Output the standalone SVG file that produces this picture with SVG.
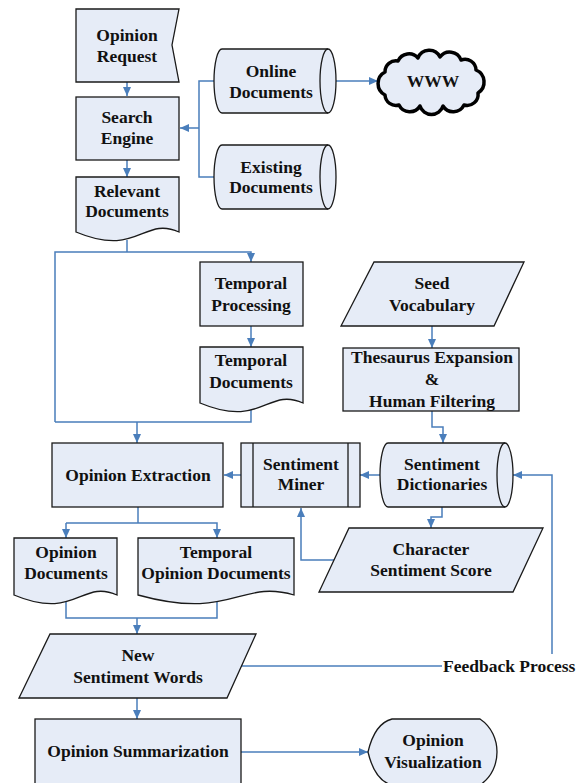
<svg xmlns="http://www.w3.org/2000/svg" width="580" height="783" viewBox="0 0 580 783">
<defs>
<style>
.s{fill:#e6ecf7;stroke:#1a1a1a;stroke-width:1.3}
.c{fill:none;stroke:#4a7ebb;stroke-width:1.5}
.t{font-family:"Liberation Serif","Times New Roman",serif;font-weight:bold;font-size:17.5px;fill:#111;text-anchor:middle}
</style>
<marker id="a" markerUnits="userSpaceOnUse" markerWidth="10" markerHeight="10" refX="9" refY="4" orient="auto">
<path d="M0,0 L9,4 L0,8 Z" fill="#4a7ebb"/>
</marker>
</defs>
<rect width="580" height="783" fill="#fff"/>
<g id="connectors">
<path class="c" d="M127,82 V96" marker-end="url(#a)"/>
<path class="c" d="M127,160 V177" marker-end="url(#a)"/>
<path class="c" d="M214,81 H199 V177 H214"/>
<path class="c" d="M199,128 H180" marker-end="url(#a)"/>
<path class="c" d="M336,81 H378" marker-end="url(#a)"/>
<path class="c" d="M127,240 V252"/>
<path class="c" d="M55,422 V252 H251 V262" marker-end="url(#a)"/>
<path class="c" d="M251,326 V347" marker-end="url(#a)"/>
<path class="c" d="M251,410 V422 H55"/>
<path class="c" d="M137,422 V443" marker-end="url(#a)"/>
<path class="c" d="M432,326 V348" marker-end="url(#a)"/>
<path class="c" d="M432,411 V427 H443 V443" marker-end="url(#a)"/>
<path class="c" d="M380,475 H360" marker-end="url(#a)"/>
<path class="c" d="M241,475 H224" marker-end="url(#a)"/>
<path class="c" d="M442,507 V517 H431 V528" marker-end="url(#a)"/>
<path class="c" d="M334,560 H301 V508" marker-end="url(#a)"/>
<path class="c" d="M138,507 V523"/>
<path class="c" d="M66,523 H217 V538" marker-end="url(#a)"/>
<path class="c" d="M66,523 V538" marker-end="url(#a)"/>
<path class="c" d="M66,601 V618 H217 V601"/>
<path class="c" d="M137,618 V634" marker-end="url(#a)"/>
<path class="c" d="M137,698 V719" marker-end="url(#a)"/>
<path class="c" d="M241,666 H442"/>
<path class="c" d="M552,654 V475 H513" marker-end="url(#a)"/>
<path class="c" d="M241,752 H368" marker-end="url(#a)"/>
</g>
<g id="opinion-request">
<path class="s" d="M76,9 H179 L172,45 L179,82 H76 Z"/>
<text class="t" x="127" y="41">Opinion</text>
<text class="t" x="127" y="62">Request</text>
</g>
<g id="search-engine">
<rect class="s" x="76" y="97" width="103" height="63"/>
<text class="t" x="127" y="123">Search</text>
<text class="t" x="127" y="144">Engine</text>
</g>
<g id="relevant-documents">
<path class="s" d="M76,177 H179 V232 C143,216 138,258 76,232 Z"/>
<text class="t" x="127" y="197">Relevant</text>
<text class="t" x="127" y="217">Documents</text>
</g>
<g id="online-documents">
<path class="s" d="M222,49 H328 A8,32 0 0 1 328,113 H222 A8,32 0 0 1 222,49 Z"/>
<path fill="none" stroke="#1a1a1a" stroke-width="1.3" d="M328,49 A8,32 0 0 0 328,113"/>
<text class="t" x="271" y="77">Online</text>
<text class="t" x="271" y="98">Documents</text>
</g>
<g id="existing-documents">
<path class="s" d="M222,145 H328 A8,32 0 0 1 328,209 H222 A8,32 0 0 1 222,145 Z"/>
<path fill="none" stroke="#1a1a1a" stroke-width="1.3" d="M328,145 A8,32 0 0 0 328,209"/>
<text class="t" x="271" y="173">Existing</text>
<text class="t" x="271" y="193">Documents</text>
</g>
<g id="www">
<path fill="#e6ecf7" stroke="#000" stroke-width="3.5" stroke-linejoin="round" d="M385,72 A11,11 0 0 1 398,61 A12,12 0 0 1 418,58 A12,12 0 0 1 440,57 A12,12 0 0 1 461,60 A11,11 0 0 1 476,70 A13,13 0 0 1 478,93 A11,11 0 0 1 464,105 A12,12 0 0 1 443,106 A12,12 0 0 1 420,106 A12,12 0 0 1 399,105 A11,11 0 0 1 385,95 A13,13 0 0 1 385,72 Z"/>
<text class="t" x="433" y="87">WWW</text>
</g>
<g id="temporal-processing">
<rect class="s" x="200" y="262" width="103" height="64"/>
<text class="t" x="251" y="289">Temporal</text>
<text class="t" x="251" y="311">Processing</text>
</g>
<g id="temporal-documents">
<path class="s" d="M200,347 H303 V403 C267,387 262,429 200,403 Z"/>
<text class="t" x="251" y="366">Temporal</text>
<text class="t" x="251" y="388">Documents</text>
</g>
<g id="seed-vocabulary">
<path class="s" d="M374,262 H524 L494,326 H341 Z"/>
<text class="t" x="432" y="289">Seed</text>
<text class="t" x="432" y="311">Vocabulary</text>
</g>
<g id="thesaurus">
<rect class="s" x="343" y="348" width="176" height="63"/>
<text class="t" x="432" y="363">Thesaurus Expansion</text>
<text class="t" x="432" y="385">&amp;</text>
<text class="t" x="432" y="407">Human Filtering</text>
</g>
<g id="opinion-extraction">
<rect class="s" x="52" y="443" width="171" height="64"/>
<text class="t" x="138" y="481">Opinion Extraction</text>
</g>
<g id="sentiment-miner">
<rect class="s" x="241" y="443" width="119" height="64"/>
<path fill="none" stroke="#1a1a1a" stroke-width="1.3" d="M253,443 V507 M348,443 V507"/>
<text class="t" x="301" y="470">Sentiment</text>
<text class="t" x="301" y="490">Miner</text>
</g>
<g id="sentiment-dictionaries">
<path class="s" d="M388,443 H505 A8,32 0 0 1 505,507 H388 A8,32 0 0 1 388,443 Z"/>
<path fill="none" stroke="#1a1a1a" stroke-width="1.3" d="M505,443 A8,32 0 0 0 505,507"/>
<text class="t" x="442" y="470">Sentiment</text>
<text class="t" x="442" y="490">Dictionaries</text>
</g>
<g id="character-sentiment-score">
<path class="s" d="M349,528 H543 L513,592 H319 Z"/>
<text class="t" x="431" y="555">Character</text>
<text class="t" x="431" y="576">Sentiment Score</text>
</g>
<g id="opinion-documents">
<path class="s" d="M14,538 H117 V595 C81,579 76,621 14,595 Z"/>
<text class="t" x="66" y="558">Opinion</text>
<text class="t" x="66" y="579">Documents</text>
</g>
<g id="temporal-opinion-documents">
<path class="s" d="M138,538 H294 V595 C240,579 232,621 138,595 Z"/>
<text class="t" x="216" y="558">Temporal</text>
<text class="t" x="216" y="579">Opinion Documents</text>
</g>
<g id="new-sentiment-words">
<path class="s" d="M50,634 H256 L227,698 H19 Z"/>
<text class="t" x="138" y="661">New</text>
<text class="t" x="138" y="683">Sentiment Words</text>
</g>
<g id="feedback-process">
<text class="t" x="443" y="672" style="text-anchor:start">Feedback Process</text>
</g>
<g id="opinion-summarization">
<rect class="s" x="35" y="719" width="206" height="80"/>
<text class="t" x="138" y="757">Opinion Summarization</text>
</g>
<g id="opinion-visualization">
<path class="s" d="M368,752 C372,735 380,722 392,719 H480 C492,727 497,740 497,752 C497,764 492,777 480,785 H392 C380,782 372,769 368,752 Z"/>
<text class="t" x="433" y="746">Opinion</text>
<text class="t" x="433" y="768">Visualization</text>
</g>
</svg>
